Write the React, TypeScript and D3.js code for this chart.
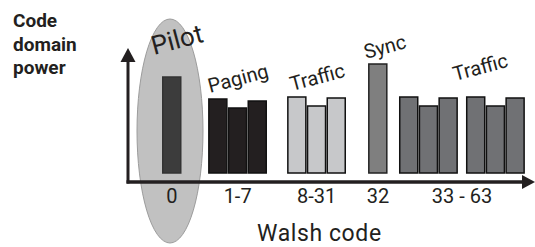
import * as d3 from 'd3';
import { useEffect, useRef } from 'react';

// Walsh code ranges along the x axis and the channel each one carries
const CATEGORIES = ['0', '1-7', '8-31', '32', '33 - 63'];
const CHANNELS = ['Pilot', 'Paging', 'Traffic', 'Sync', 'Traffic'];

// relative code domain power per Walsh code bar
const PILOT = [96];
const PAGING = [74, 65, 72];
const TRAFFIC_LOW = [76, 67, 75];
const SYNC = [109];
const TRAFFIC_HIGH = [76, 67, 75, 76, 67, 75];

const SERIES = [PILOT, PAGING, TRAFFIC_LOW, SYNC, TRAFFIC_HIGH];

const W = 535;
const H = 247;
const BASE_Y = 173;
const AXIS_Y = 182;
const AXIS_X = 128;
const PITCH = 19.7;
const BAR_W = 18;
const TILT = -15;

// start of each cluster, in bar pitches from the pilot bar
const CLUSTERS = [[0], [2.34], [6.35], [10.46], [12.03, 15.43]];
const FILLS = ['#3c3c3c', '#231f20', '#c7c8ca', '#7f7f7f', '#707174'];
const STROKES = ['#333', '#111', '#111', '#222', '#111'];
// tilted channel name anchors (baseline start) and font size
const NAME_POS: [number, number, number][] = [
  [154, 55, 26], [210, 93, 20], [292, 91, 20], [366, 59, 20], [455, 81, 20],
];

const FONT = 'Roboto, "Liberation Sans", sans-serif';

export default function App() {
  const ref = useRef<SVGSVGElement>(null);

  useEffect(() => {
    if (!ref.current) return;
    const svg = d3.select(ref.current);
    svg.selectAll('*').remove();

    const x = d3.scaleLinear().domain([0, 1]).range([162, 162 + PITCH]);
    const y = d3.scaleLinear().domain([0, 110]).range([BASE_Y, BASE_Y - 110]);

    // pilot ellipse highlight
    svg.append('ellipse')
      .attr('cx', 170).attr('cy', 131).attr('rx', 33).attr('ry', 112)
      .attr('fill', '#c1c1c1').attr('stroke', '#9c9c9c').attr('stroke-width', 1);

    // bars
    SERIES.forEach((vals, gi) => {
      const starts = CLUSTERS[gi];
      vals.forEach((v, i) => {
        const c = Math.floor(i / 3);
        const slot = starts[Math.min(c, starts.length - 1)] + (i % 3);
        svg.append('rect')
          .attr('x', x(slot) + 0.75)
          .attr('y', y(v))
          .attr('width', BAR_W)
          .attr('height', BASE_Y - y(v))
          .attr('fill', FILLS[gi])
          .attr('stroke', STROKES[gi])
          .attr('stroke-width', 1.5);
      });
    });

    // axes with arrow heads
    svg.append('line')
      .attr('x1', AXIS_X).attr('y1', AXIS_Y + 1.5).attr('x2', AXIS_X).attr('y2', 60)
      .attr('stroke', '#231f20').attr('stroke-width', 3);
    svg.append('path')
      .attr('d', `M${AXIS_X - 7.5},62 L${AXIS_X},48 L${AXIS_X + 7.5},62 Z`)
      .attr('fill', '#231f20');
    svg.append('line')
      .attr('x1', AXIS_X - 1.5).attr('y1', AXIS_Y).attr('x2', 526).attr('y2', AXIS_Y)
      .attr('stroke', '#231f20').attr('stroke-width', 3.5);
    svg.append('path')
      .attr('d', `M522,${AXIS_Y - 7} L535,${AXIS_Y} L522,${AXIS_Y + 7} Z`)
      .attr('fill', '#231f20');

    // category labels centred under each group
    CATEGORIES.forEach((cat, gi) => {
      const starts = CLUSTERS[gi];
      const n = SERIES[gi].length;
      const last = starts[starts.length - 1] + ((n - 1) % 3);
      const cx = (x(starts[0]) + x(last) + PITCH) / 2;
      svg.append('text')
        .attr('x', cx).attr('y', 203)
        .attr('text-anchor', 'middle')
        .attr('font-family', FONT).attr('font-size', 20)
        .attr('fill', '#231f20')
        .text(cat);
    });

    // channel names, tilted upward
    CHANNELS.forEach((name, gi) => {
      const [px, py, fs] = NAME_POS[gi];
      svg.append('text')
        .attr('x', 0).attr('y', 0)
        .attr('transform', `translate(${px},${py}) rotate(${TILT})`)
        .attr('font-family', FONT).attr('font-size', fs)
        .attr('fill', '#231f20')
        .text(name);
    });

    svg.append('text')
      .attr('x', 257).attr('y', 241)
      .attr('font-family', FONT).attr('font-size', 23)
      .attr('letter-spacing', 0.6)
      .attr('fill', '#231f20')
      .text('Walsh code');

    ['Code', 'domain', 'power'].forEach((t, i) => {
      svg.append('text')
        .attr('x', 13).attr('y', 27 + i * 23.5)
        .attr('font-family', FONT).attr('font-size', 19).attr('font-weight', 'bold')
        .attr('fill', '#231f20')
        .text(t);
    });
  }, []);

  return (
    <svg
      ref={ref}
      width={W}
      height={H}
      style={{ position: 'absolute', left: 0, top: 0, background: '#fff' }}
    />
  );
}
